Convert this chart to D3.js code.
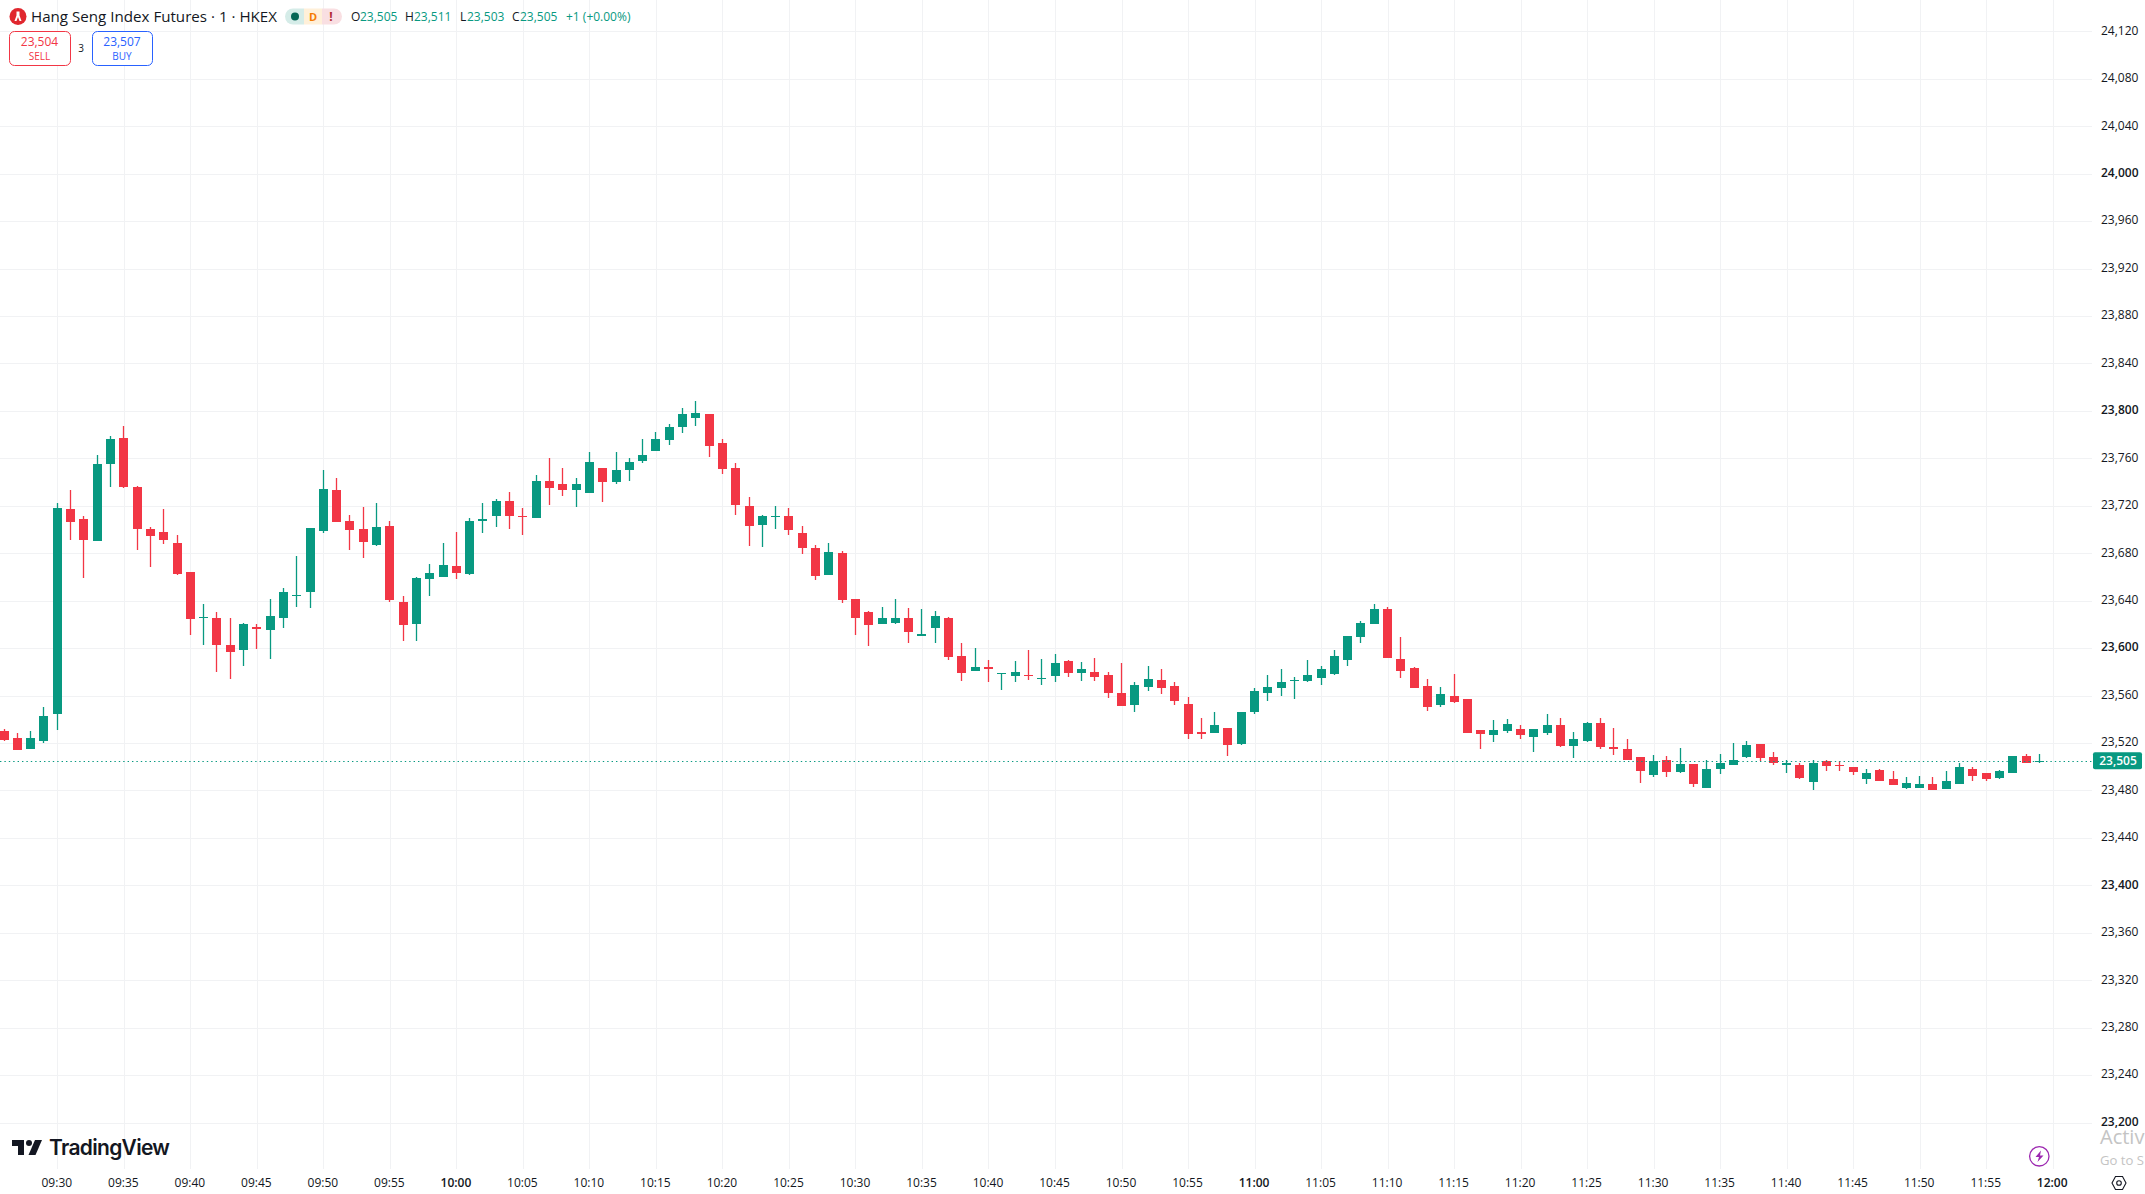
<!DOCTYPE html>
<html>
<head>
<meta charset="utf-8">
<title>Hang Seng Index Futures</title>
<script src="https://cdn.jsdelivr.net/npm/d3@7"></script>
<style>
  html, body { margin: 0; padding: 0; background: #fff; overflow: hidden; }
  svg { display: block; font-family: "Open Sans", "Noto Sans", sans-serif; }
</style>
</head>
<body>
<svg id="chart" width="2145" height="1194"></svg>
<script>
const width = 2145;
const height = 1194;

// one minute candles, first one is 09:26
const firstCandle = "09:26";
const lastCandle = "11:59";

const opens = [
  23530,23524,23515,23522,23544,23717,23709,23690,23755,23777,
  23736,23700,23698,23689,23664,23625,23625,23603,23598,23618,
  23615,23625,23644,23647,23699,23733,23707,23700,23687,23703,
  23639,23620,23658,23660,23669,23662,23707,23711,23724,23711,
  23710,23741,23738,23733,23731,23752,23740,23750,23758,23766,
  23775,23786,23794,23797,23773,23752,23720,23703,23710,23711,
  23697,23684,23662,23680,23641,23630,23620,23621,23625,23610,
  23617,23625,23593,23581,23584,23578,23577,23577,23574,23576,
  23589,23579,23580,23577,23562,23552,23567,23573,23568,23553,
  23529,23528,23533,23519,23546,23562,23566,23572,23572,23574,
  23578,23590,23609,23620,23633,23591,23583,23568,23552,23560,
  23557,23531,23527,23530,23532,23525,23528,23535,23517,23522,
  23537,23517,23515,23508,23493,23506,23495,23502,23482,23498,
  23502,23508,23519,23508,23501,23501,23487,23505,23501,23500,
  23490,23497,23490,23482,23482,23485,23481,23486,23498,23495,
  23490,23495,23509,23505
];

const highs = [
  23532,23528,23530,23550,23722,23733,23711,23763,23779,23787,
  23737,23702,23717,23695,23664,23637,23630,23625,23621,23620,
  23641,23651,23678,23701,23750,23743,23712,23719,23722,23707,
  23644,23660,23671,23689,23698,23710,23722,23726,23732,23718,
  23746,23760,23752,23743,23765,23752,23765,23760,23776,23782,
  23789,23802,23808,23797,23776,23756,23727,23712,23720,23718,
  23703,23687,23689,23682,23641,23631,23635,23641,23634,23633,
  23631,23626,23604,23600,23590,23579,23589,23598,23591,23595,
  23590,23588,23592,23580,23587,23571,23585,23582,23571,23559,
  23541,23546,23533,23546,23566,23577,23582,23576,23590,23585,
  23598,23610,23623,23637,23635,23609,23584,23574,23567,23578,
  23557,23531,23539,23540,23535,23532,23544,23541,23529,23538,
  23541,23533,23523,23508,23510,23509,23516,23502,23506,23511,
  23520,23522,23519,23512,23506,23503,23506,23506,23505,23500,
  23498,23498,23496,23491,23492,23491,23496,23503,23500,23495,
  23497,23509,23511,23511
];

const lows = [
  23522,23514,23515,23520,23531,23691,23659,23690,23736,23735,
  23683,23668,23688,23662,23611,23603,23580,23574,23585,23599,
  23591,23617,23635,23634,23697,23706,23683,23676,23686,23639,
  23606,23606,23644,23660,23658,23662,23697,23702,23700,23695,
  23710,23721,23728,23719,23731,23723,23738,23741,23756,23766,
  23771,23781,23787,23761,23747,23712,23686,23685,23700,23695,
  23679,23657,23662,23638,23611,23602,23620,23620,23604,23610,
  23604,23590,23572,23581,23571,23565,23571,23573,23569,23571,
  23576,23572,23572,23558,23551,23546,23564,23561,23552,23523,
  23523,23528,23509,23518,23544,23555,23560,23557,23571,23569,
  23577,23585,23604,23620,23592,23575,23566,23547,23550,23554,
  23528,23515,23521,23528,23523,23512,23527,23517,23507,23521,
  23515,23510,23506,23486,23491,23491,23495,23483,23482,23494,
  23501,23507,23505,23501,23495,23490,23480,23496,23496,23493,
  23485,23488,23485,23481,23482,23480,23481,23486,23488,23488,
  23490,23495,23503,23503
];

const closes = [
  23522,23514,23524,23543,23718,23706,23691,23755,23776,23736,
  23701,23694,23691,23663,23624,23626,23602,23597,23620,23616,
  23627,23647,23645,23701,23734,23706,23699,23689,23702,23641,
  23620,23659,23663,23670,23663,23707,23709,23724,23711,23710,
  23741,23735,23733,23738,23757,23740,23750,23757,23763,23776,
  23786,23797,23798,23770,23751,23721,23703,23711,23711,23699,
  23684,23660,23681,23640,23625,23619,23625,23625,23613,23612,
  23627,23592,23579,23584,23582,23579,23580,23576,23575,23587,
  23579,23582,23576,23562,23551,23569,23574,23566,23555,23528,
  23527,23535,23519,23546,23564,23567,23571,23573,23577,23582,
  23593,23610,23621,23633,23592,23581,23566,23550,23561,23555,
  23528,23528,23531,23536,23527,23532,23535,23517,23523,23537,
  23517,23515,23506,23496,23505,23496,23502,23485,23498,23503,
  23506,23518,23507,23503,23503,23490,23503,23501,23500,23496,
  23495,23488,23485,23486,23485,23480,23488,23500,23492,23490,
  23496,23509,23503,23505
];

const priceTicks = [
  24120,24080,24040,24000,23960,23920,23880,23840,23800,23760,23720,23680,
  23640,23600,23560,23520,23480,23440,23400,23360,23320,23280,23240,23200
];
const strongPrices = [24000, 23800, 23600, 23400, 23200];

const timeTicks = [
  "09:30","09:35","09:40","09:45","09:50","09:55","10:00","10:05","10:10","10:15",
  "10:20","10:25","10:30","10:35","10:40","10:45","10:50","10:55","11:00","11:05",
  "11:10","11:15","11:20","11:25","11:30","11:35","11:40","11:45","11:50","11:55","12:00"
];
const strongTimes = ["10:00", "11:00", "12:00"];

const lastPrice = 23505;
const legendOHLC = [
  { letter: "O", value: "23,505", x: 351, valueX: 360 },
  { letter: "H", value: "23,511", x: 405, valueX: 414 },
  { letter: "L", value: "23,503", x: 460, valueX: 467 },
  { letter: "C", value: "23,505", x: 512, valueX: 520 }
];

const green = "#089981";
const red = "#f23645";
const blue = "#2962ff";
const ink = "#131722";
const gridColor = "#f1f2f4";

const parseTime = d3.timeParse("%H:%M");
const formatTime = d3.timeFormat("%H:%M");
const formatPrice = d3.format(",");

const x = d3.scaleTime()
  .domain([parseTime("09:30"), parseTime("12:00")])
  .range([57.3, 2052.7]);

const y = d3.scaleLinear()
  .domain([24120, 23200])
  .range([31.3, 1122.5]);

const candles = d3.timeMinute.range(parseTime(firstCandle), d3.timeMinute.offset(parseTime(lastCandle), 1))
  .map((t, i) => ({ t, open: opens[i], high: highs[i], low: lows[i], close: closes[i] }));

const svg = d3.select("#chart");

// === GRID + AXES ===
const axisRightX = 2092;
const axisBottomY = 1169;

const timeAxis = svg.append("g")
  .attr("transform", `translate(0, ${axisBottomY})`)
  .call(d3.axisBottom(x)
    .tickValues(timeTicks.map(parseTime))
    .tickFormat(formatTime)
    .tickSize(-axisBottomY)
    .tickPadding(9));

const priceAxis = svg.append("g")
  .attr("transform", `translate(${axisRightX}, 0)`)
  .call(d3.axisRight(y)
    .tickValues(priceTicks)
    .tickFormat(formatPrice)
    .tickSize(-axisRightX)
    .tickPadding(9));

[timeAxis, priceAxis].forEach(axis => {
  axis.attr("font-family", null).attr("font-size", null);
  axis.select(".domain").remove();
  axis.selectAll("line").attr("stroke", gridColor).attr("shape-rendering", "crispEdges");
  axis.selectAll("text").attr("fill", ink).attr("font-size", 12);
});

timeAxis.selectAll("text")
  .attr("dx", -1)
  .attr("font-weight", d => strongTimes.includes(formatTime(d)) ? 600 : 400);
priceAxis.selectAll("text")
  .attr("transform", "translate(0, -1)")
  .attr("font-weight", d => strongPrices.includes(d) ? 600 : 400);

// === CANDLES ===
const candleG = svg.append("g");
const left = d => Math.floor(x(d.t));

candleG.selectAll("line")
  .data(candles)
  .join("line")
  .attr("x1", d => left(d) + 0.5)
  .attr("x2", d => left(d) + 0.5)
  .attr("y1", d => Math.round(y(d.high)))
  .attr("y2", d => Math.round(y(d.low)))
  .attr("stroke", d => d.close >= d.open ? green : red)
  .attr("stroke-width", 1.3);

candleG.selectAll("rect")
  .data(candles)
  .join("rect")
  .attr("x", d => left(d) - 4)
  .attr("width", 9)
  .attr("y", d => Math.round(y(Math.max(d.open, d.close))))
  .attr("height", d => Math.max(1, Math.round(Math.abs(y(d.open) - y(d.close)))))
  .attr("fill", d => d.close >= d.open ? green : red)
  .attr("shape-rendering", "crispEdges");

// === LAST PRICE LINE + LABEL ===
svg.append("line")
  .attr("x1", 0)
  .attr("x2", axisRightX)
  .attr("y1", Math.round(y(lastPrice)) + 0.5)
  .attr("y2", Math.round(y(lastPrice)) + 0.5)
  .attr("stroke", green)
  .attr("stroke-width", 1)
  .attr("stroke-dasharray", "1.4 3");

svg.append("rect")
  .attr("x", 2093)
  .attr("y", y(lastPrice) - 8.5)
  .attr("width", 49)
  .attr("height", 17)
  .attr("rx", 2)
  .attr("fill", green);

svg.append("text")
  .attr("x", 2118)
  .attr("y", y(lastPrice) + 4.5)
  .attr("text-anchor", "middle")
  .attr("font-size", 12)
  .attr("font-weight", 600)
  .attr("fill", "#fff")
  .text(formatPrice(lastPrice));

// === TOP LEFT LEGEND ===
const legend = svg.append("g");

legend.append("circle").attr("cx", 18).attr("cy", 16.5).attr("r", 8.5).attr("fill", "#e0272e");
legend.append("path")
  .attr("d", "M16.5 11.5h3v4l2 5.5h-2l-1.5-4-1.5 4h-2l2-5.5z")
  .attr("fill", "#fff");

legend.append("text")
  .attr("x", 31)
  .attr("y", 21.5)
  .attr("font-size", 15)
  .attr("fill", ink)
  .attr("textLength", 246)
  .attr("lengthAdjust", "spacingAndGlyphs")
  .text("Hang Seng Index Futures · 1 · HKEX");

// status pills
legend.append("path").attr("d", "M293 8.5h11v16h-11a8 8 0 0 1 0-16z").attr("fill", "#d5ece8");
legend.append("rect").attr("x", 304).attr("y", 8.5).attr("width", 18).attr("height", 16).attr("fill", "#fff0d9");
legend.append("path").attr("d", "M322 8.5h12a8 8 0 0 1 0 16h-12z").attr("fill", "#f9dfe2");
legend.append("circle").attr("cx", 295).attr("cy", 16.5).attr("r", 4).attr("fill", "#056656");
legend.append("text").attr("x", 313).attr("y", 20.5).attr("text-anchor", "middle")
  .attr("font-size", 11).attr("font-weight", 700).attr("fill", "#f57c00").text("D");
legend.append("text").attr("x", 331).attr("y", 20.5).attr("text-anchor", "middle")
  .attr("font-size", 12).attr("font-weight", 700).attr("fill", "#b22833").text("!");

legendOHLC.forEach(d => {
  legend.append("text").attr("x", d.x).attr("y", 21).attr("font-size", 12).attr("fill", ink).text(d.letter);
  legend.append("text").attr("x", d.valueX).attr("y", 21).attr("font-size", 12).attr("fill", green).text(d.value);
});
legend.append("text").attr("x", 566).attr("y", 21).attr("font-size", 12).attr("fill", green).text("+1 (+0.00%)");

// sell / buy buttons
const buttons = [
  { x: 9, w: 61, price: "23,504", label: "SELL", color: red },
  { x: 92, w: 60, price: "23,507", label: "BUY", color: blue }
];
buttons.forEach(b => {
  legend.append("rect")
    .attr("x", b.x + 0.5).attr("y", 31.5).attr("width", b.w).attr("height", 34).attr("rx", 5)
    .attr("fill", "#fff").attr("stroke", b.color);
  legend.append("text").attr("x", b.x + b.w / 2).attr("y", 46).attr("text-anchor", "middle")
    .attr("font-size", 12).attr("fill", b.color).text(b.price);
  legend.append("text").attr("x", b.x + b.w / 2).attr("y", 60).attr("text-anchor", "middle")
    .attr("font-size", 10).attr("fill", b.color).text(b.label);
});
legend.append("text").attr("x", 81).attr("y", 52).attr("text-anchor", "middle")
  .attr("font-size", 10).attr("fill", ink).text("3");

// === TRADINGVIEW LOGO ===
const logo = svg.append("g").attr("transform", "translate(12, 1140)");
logo.append("path").attr("d", "M0 0h12v15h-6v-9h-6z").attr("fill", ink);
logo.append("circle").attr("cx", 17).attr("cy", 3).attr("r", 3).attr("fill", ink);
logo.append("path").attr("d", "M23 0h7l-6.5 15h-7z").attr("fill", ink);
svg.append("text")
  .attr("x", 49)
  .attr("y", 1155)
  .attr("font-family", "Inter, sans-serif")
  .attr("font-size", 21)
  .attr("font-weight", 600)
  .attr("fill", ink)
  .attr("textLength", 121)
  .text("TradingView");

// === BOTTOM RIGHT BITS ===
svg.append("circle")
  .attr("cx", 2039.3).attr("cy", 1156.3).attr("r", 9.7)
  .attr("fill", "#fff").attr("stroke", "#9c27b0").attr("stroke-width", 1.3);
svg.append("path")
  .attr("d", "M2041 1150.5l-5.5 6.5h3.5l-1.5 5 6-6.5h-3.5z")
  .attr("fill", "#9c27b0");

svg.append("path")
  .attr("d", "M2112 1183l3.5-6.5h7l3.5 6.5-3.5 6.5h-7z")
  .attr("fill", "none").attr("stroke", ink).attr("stroke-width", 1.1);
svg.append("circle").attr("cx", 2119).attr("cy", 1183).attr("r", 2.3)
  .attr("fill", "none").attr("stroke", ink).attr("stroke-width", 1.1);

// windows watermark
svg.append("text").attr("x", 2100).attr("y", 1144).attr("font-size", 20)
  .attr("fill", "#c4c4c4").text("Activa");
svg.append("text").attr("x", 2100).attr("y", 1165).attr("font-size", 13.5)
  .attr("fill", "#c4c4c4").attr("textLength", 44).attr("lengthAdjust", "spacingAndGlyphs").text("Go to S");
</script>
</body>
</html>
